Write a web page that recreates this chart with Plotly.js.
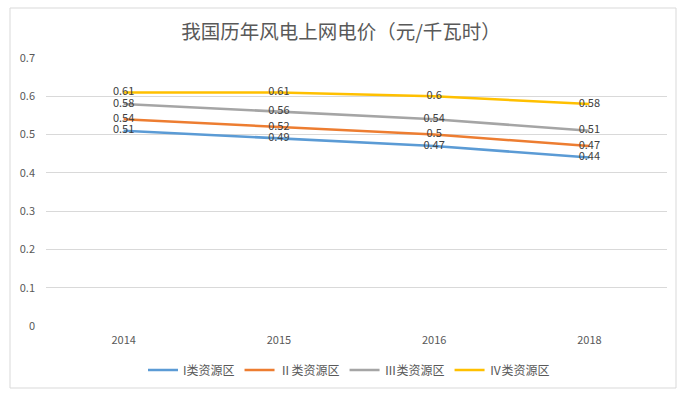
<!DOCTYPE html>
<html><head><meta charset="utf-8">
<script src="https://cdn.plot.ly/plotly-3.0.1.min.js"></script>
<style>html,body{margin:0;padding:0;background:#fff}#c{width:693px;height:396px}</style>
</head><body><div id="c"></div>
<script>
const years = ['2014', '2015', '2016', '2018'];
const seriesNames = ['I类资源区', 'Ⅱ类资源区', 'Ⅲ类资源区', 'Ⅳ类资源区'];
const class1 = [0.51, 0.49, 0.47, 0.44];
const class2 = [0.54, 0.52, 0.5, 0.47];
const class3 = [0.58, 0.56, 0.54, 0.51];
const class4 = [0.61, 0.61, 0.6, 0.58];
const yTicks = [0, 0.1, 0.2, 0.3, 0.4, 0.5, 0.6, 0.7];
const colors = ['#5b9bd5', '#ed7d31', '#a5a5a5', '#ffc000'];
const allSeries = [class1, class2, class3, class4];

const font = '"Noto Sans CJK SC", "Liberation Sans", sans-serif';
const traces = allSeries.map((vals, i) => ({
  type: 'scatter', mode: 'lines+text', x: years, y: vals, name: seriesNames[i],
  line: {color: colors[i], width: 2.6},
  text: vals.map(v => String(v)), textposition: 'middle center',
  textfont: {family: font, size: 11, color: '#404040'},
  cliponaxis: false
}));

const L = 46, R = 667, T = 58, B = 326;
const W = R - L, H = B - T;
const layout = {
  width: 693, height: 396,
  margin: {l: L, r: 693 - R, t: T, b: 396 - B},
  paper_bgcolor: '#fff', plot_bgcolor: '#fff',
  title: {text: '我国历年风电上网电价（元/千瓦时）', font: {family: font, size: 19.5, color: '#595959'}, x: 341/693, xanchor: 'center', y: 1 - 32/396, yanchor: 'middle'},
  xaxis: {type: 'category', range: [-0.5, 3.5], showgrid: false, zeroline: false, showline: false, ticks: '',
    tickfont: {family: font, size: 11, color: '#595959'}, ticklabelstandoff: 6},
  yaxis: {range: [0, 0.7], tickvals: yTicks, ticktext: yTicks.map(v => String(v)),
    showgrid: true, gridcolor: '#d9d9d9', gridwidth: 1, zeroline: false, showline: false,
    tickfont: {family: font, size: 11, color: '#595959'}, ticklabelstandoff: 10},
  legend: {orientation: 'h', x: (349 - L) / W, xanchor: 'center', y: (B - 370) / H, yanchor: 'middle',
    font: {family: font, size: 12, color: '#595959'}, itemwidth: 30},
  showlegend: true,
  shapes: [{type: 'rect', xref: 'paper', yref: 'paper',
    x0: (10 - L) / W, x1: (676 - L) / W, y0: (B - 388) / H, y1: (B - 8) / H,
    line: {color: '#d9d9d9', width: 1}, fillcolor: 'rgba(0,0,0,0)', layer: 'below'}]
};
Plotly.newPlot('c', traces, layout, {displayModeBar: false, staticPlot: true});
</script></body></html>
